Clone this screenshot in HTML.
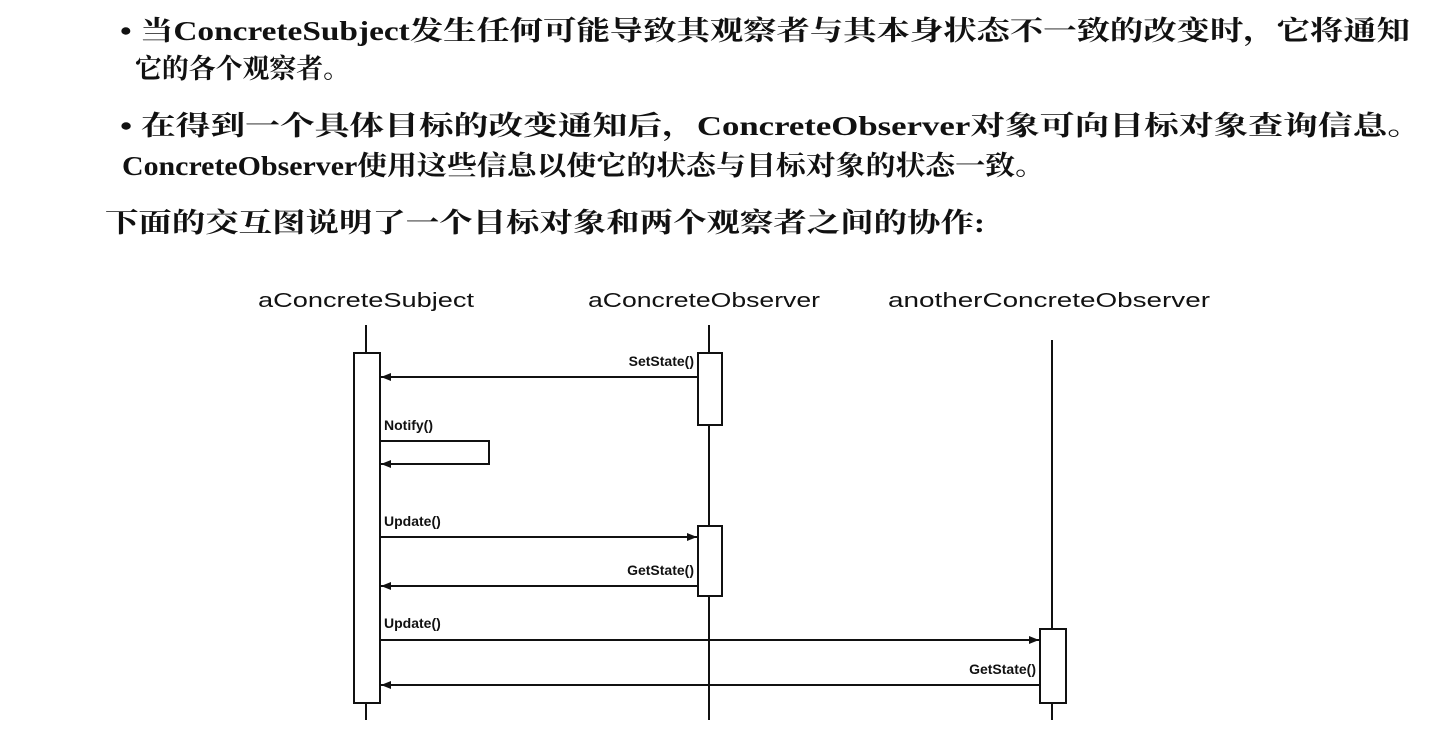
<!DOCTYPE html>
<html><head><meta charset="utf-8"><style>
html,body{margin:0;padding:0;background:#fff;}
svg{display:block}
.t{font-family:"Liberation Serif","Noto Serif CJK SC",serif;font-size:27px;font-weight:bold;fill:#111}
.h{font-family:"Liberation Sans",sans-serif;font-size:20px;fill:#111}
.l{font-family:"Liberation Sans",sans-serif;font-size:14px;font-weight:bold;fill:#111}
</style></head><body>
<svg width="1438" height="738" viewBox="0 0 1438 738" xmlns="http://www.w3.org/2000/svg">
<defs><marker id="a" markerWidth="10" markerHeight="8" refX="10" refY="4" orient="auto" markerUnits="userSpaceOnUse"><path d="M0,0 L10,4 L0,8 z" fill="#111"/></marker></defs>
<text class="t" x="120" y="40" textLength="1290" lengthAdjust="spacingAndGlyphs">• 当ConcreteSubject发生任何可能导致其观察者与其本身状态不一致的改变时，它将通知</text>
<text class="t" x="135" y="78" textLength="215" lengthAdjust="spacingAndGlyphs">它的各个观察者。</text>
<text class="t" x="120" y="135" textLength="1302" lengthAdjust="spacingAndGlyphs">• 在得到一个具体目标的改变通知后，ConcreteObserver对象可向目标对象查询信息。</text>
<text class="t" x="122" y="175" textLength="923" lengthAdjust="spacingAndGlyphs">ConcreteObserver使用这些信息以使它的状态与目标对象的状态一致。</text>
<text class="t" x="105" y="232" textLength="880" lengthAdjust="spacingAndGlyphs">下面的交互图说明了一个目标对象和两个观察者之间的协作:</text>
<text class="h" x="258" y="307" textLength="216" lengthAdjust="spacingAndGlyphs">aConcreteSubject</text>
<text class="h" x="588" y="307" textLength="232" lengthAdjust="spacingAndGlyphs">aConcreteObserver</text>
<text class="h" x="888" y="307" textLength="322" lengthAdjust="spacingAndGlyphs">anotherConcreteObserver</text>
<g stroke="#111" stroke-width="2" fill="none">
<line x1="366" y1="325" x2="366" y2="720"/>
<line x1="709" y1="325" x2="709" y2="720"/>
<line x1="1052" y1="340" x2="1052" y2="720"/>
<rect x="354" y="353" width="26" height="350" fill="#fff"/>
<rect x="698" y="353" width="24" height="72" fill="#fff"/>
<rect x="698" y="526" width="24" height="70" fill="#fff"/>
<rect x="1040" y="629" width="26" height="74" fill="#fff"/>
<line x1="698" y1="377" x2="381" y2="377" marker-end="url(#a)"/>
<polyline points="380,441 489,441 489,464 381,464" marker-end="url(#a)"/>
<line x1="380" y1="537" x2="697" y2="537" marker-end="url(#a)"/>
<line x1="698" y1="586" x2="381" y2="586" marker-end="url(#a)"/>
<line x1="380" y1="640" x2="1039" y2="640" marker-end="url(#a)"/>
<line x1="1040" y1="685" x2="381" y2="685" marker-end="url(#a)"/>
</g>
<text class="l" x="694" y="366" text-anchor="end">SetState()</text>
<text class="l" x="384" y="430">Notify()</text>
<text class="l" x="384" y="526">Update()</text>
<text class="l" x="694" y="575" text-anchor="end">GetState()</text>
<text class="l" x="384" y="628">Update()</text>
<text class="l" x="1036" y="674" text-anchor="end">GetState()</text>
</svg>
</body></html>
